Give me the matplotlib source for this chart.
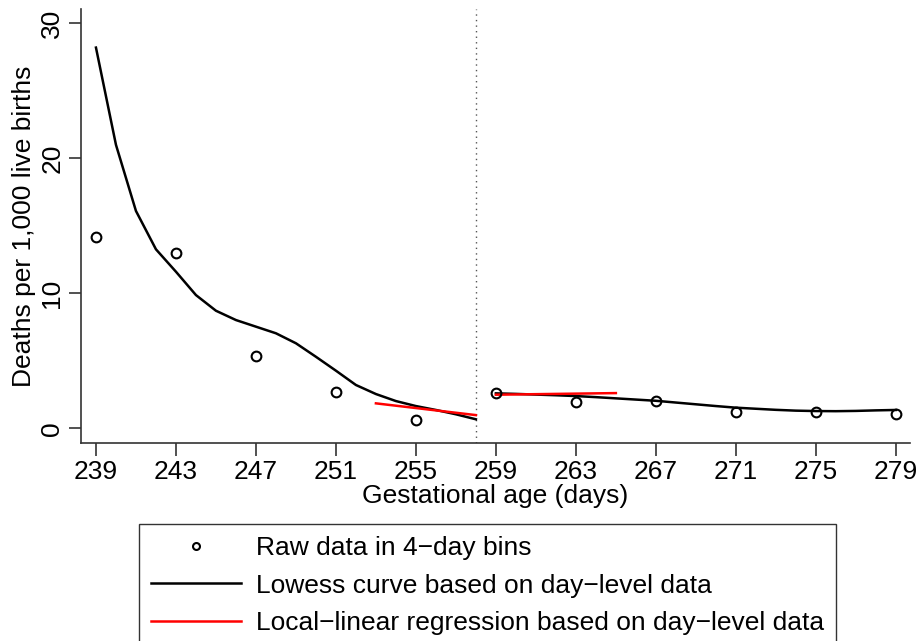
import matplotlib
matplotlib.use('Agg')
import matplotlib.pyplot as plt
from matplotlib.lines import Line2D

plt.rcParams['font.family'] = ['Liberation Sans', 'DejaVu Sans']

# raw data in 4-day bins
bin_days = [239, 243, 247, 251, 255, 259, 263, 267, 271, 275, 279]
bin_rate = [14.15, 12.96, 5.36, 2.69, 0.61, 2.64, 1.95, 2.02, 1.23, 1.23, 1.06]

# lowess curve, left of cutoff
low_days_l = list(range(239, 259))
low_rate_l = [28.2, 21.0, 16.1, 13.26, 11.6, 9.87, 8.71, 8.02, 7.53, 7.04,
              6.3, 5.3, 4.27, 3.21, 2.54, 2.02, 1.65, 1.36, 1.04, 0.67]

# lowess curve, right of cutoff
low_days_r = list(range(259, 280))
low_rate_r = [2.59, 2.55, 2.50, 2.45, 2.39, 2.31, 2.22, 2.13, 2.04, 1.91, 1.78,
              1.65, 1.53, 1.45, 1.37, 1.31, 1.28, 1.27, 1.29, 1.33, 1.36]

# local-linear regression segments
ll_days_l = [253, 258]
ll_rate_l = [1.85, 0.98]
ll_days_r = [259, 265]
ll_rate_r = [2.49, 2.61]

cutoff = 258
xticks = [239, 243, 247, 251, 255, 259, 263, 267, 271, 275, 279]
yticks = [0, 10, 20, 30]

fig = plt.figure(figsize=(9.19, 6.41), dpi=100)
ax = fig.add_axes([0.0881, 0.3084, 0.9019, 0.6776])

ax.axvline(cutoff, color='#555555', linestyle=(0, (1, 3)), linewidth=1)
ax.plot(low_days_l, low_rate_l, color='black', linewidth=1.8)
ax.plot(low_days_r, low_rate_r, color='black', linewidth=1.8)
ax.plot(ll_days_l, ll_rate_l, color='red', linewidth=1.8)
ax.plot(ll_days_r, ll_rate_r, color='red', linewidth=1.8)
ax.plot(bin_days, bin_rate, linestyle='none', marker='o', markersize=7,
        markerfacecolor='none', markeredgecolor='black', markeredgewidth=1.5)

ax.set_xlim(238.25, 279.7)
ax.set_ylim(-1.11, 31.06)
ax.set_xticks(xticks)
ax.set_yticks(yticks)
ax.tick_params(labelsize=19, length=9, width=1.2, color='#333333', pad=3)
plt.setp(ax.get_yticklabels(), rotation=90, va='center')
for s in ['top', 'right']:
    ax.spines[s].set_visible(False)
for s in ['left', 'bottom']:
    ax.spines[s].set_linewidth(1.2)
    ax.spines[s].set_color('#333333')

ax.set_xlabel('Gestational age (days)', fontsize=19, labelpad=0)
ax.set_ylabel('Deaths per 1,000 live births', fontsize=19, labelpad=3)

handles = [
    Line2D([], [], linestyle='none', marker='o', markersize=5,
           markerfacecolor='none', markeredgecolor='black', markeredgewidth=1.5),
    Line2D([], [], color='black', linewidth=1.8),
    Line2D([], [], color='red', linewidth=1.8),
]
labels = ['Raw data in 4\u2212day bins',
          'Lowess curve based on day\u2212level data',
          'Local\u2212linear regression based on day\u2212level data']
leg = fig.legend(handles, labels, loc='upper left', bbox_to_anchor=(0.1513, 0.1825),
                 fontsize=19, frameon=True, fancybox=False, edgecolor='black',
                 handlelength=3.4, handletextpad=0.6, labelspacing=0.52,
                 borderpad=0.45, borderaxespad=0)
leg.get_frame().set_linewidth(1.0)

fig.savefig('out.png', dpi=100)
